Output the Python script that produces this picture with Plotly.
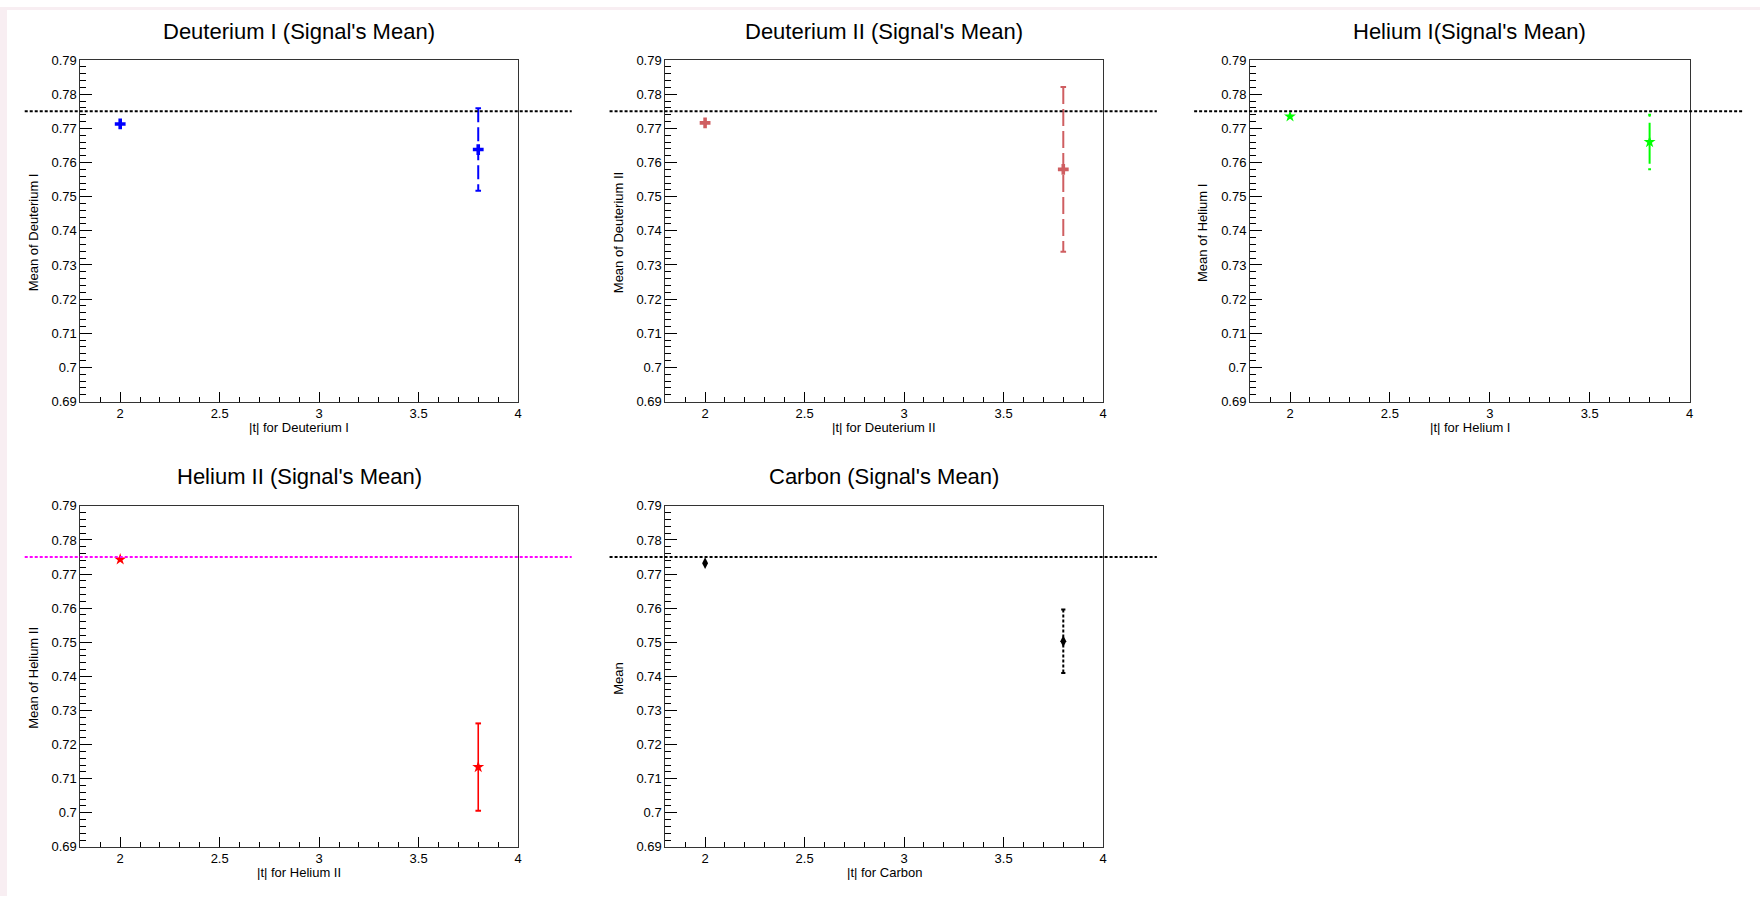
import plotly.graph_objects as go

# ---- canvas ----
W, H = 1764, 904

# ---- data ----
T_VALUES = [2.0, 3.8]
T_RANGE = [1.8, 4.0]
MEAN_RANGE = [0.69, 0.79]

REF_MEAN = 0.775            # reference mean drawn as a dotted line
REF_SPAN_T = [1.52, 4.27]   # |t| extent of the reference line

D1_MEAN = [0.7713, 0.7638]
D1_ERR = [0.0005, 0.0121]

D2_MEAN = [0.7716, 0.7580]
D2_ERR = [0.0006, 0.0241]

HE1_MEAN = [0.7735, 0.7660]
HE1_ERR = [0.0005, 0.0080]

HE2_MEAN = [0.7743, 0.7134]
HE2_ERR = [0.0006, 0.0128]

C_MEAN = [0.7732, 0.7503]
C_ERR = [0.0006, 0.0093]

TITLES = ["Deuterium I (Signal's Mean)", "Deuterium II (Signal's Mean)",
          "Helium I(Signal's Mean)", "Helium II (Signal's Mean)",
          "Carbon (Signal's Mean)"]
X_TITLES = ["|t| for Deuterium I", "|t| for Deuterium II", "|t| for Helium I",
            "|t| for Helium II", "|t| for Carbon"]
Y_TITLES = ["Mean of Deuterium I", "Mean of Deuterium II", "Mean of Helium I",
            "Mean of Helium II", "Mean"]

X_TICKS = [2.0, 2.5, 3.0, 3.5, 4.0]
X_TICK_LABELS = ["2", "2.5", "3", "3.5", "4"]
Y_TICKS = [0.69, 0.70, 0.71, 0.72, 0.73, 0.74, 0.75, 0.76, 0.77, 0.78, 0.79]
Y_TICK_LABELS = ["0.69", "0.7", "0.71", "0.72", "0.73", "0.74", "0.75",
                 "0.76", "0.77", "0.78", "0.79"]

# ---- styles per panel ----
PANELS = [
    dict(mean=D1_MEAN, err=D1_ERR, color="rgb(0,0,255)", symbol="cross", size=9,
         dash="14px,5px", ewidth=2, cap=4, ref_color="black"),
    dict(mean=D2_MEAN, err=D2_ERR, color="rgb(207,94,97)", symbol="cross", size=9,
         dash="17px,5px", ewidth=2, cap=4, ref_color="black"),
    dict(mean=HE1_MEAN, err=HE1_ERR, color="rgb(0,255,0)", symbol="star", size=9,
         dash="2px,6px,41px,6px", ewidth=2, cap=2, ref_color="black"),
    dict(mean=HE2_MEAN, err=HE2_ERR, color="rgb(255,0,0)", symbol="star", size=9,
         dash="solid", ewidth=1.6, cap=4, ref_color="rgb(255,0,255)"),
    dict(mean=C_MEAN, err=C_ERR, color="black", symbol="diamond-tall", size=8.5,
         dash="3px,2px", ewidth=2, cap=3, ref_color="black"),
]
CAP_MIN_ERR = 0.002   # end caps only on bars that reach beyond the marker

# ---- frame geometry in pixels ----
COL_LEFT = [80.6, 666.8, 1252.9]
COL_WIDTH = [438.6, 438.8, 440.5]
ROW_TOP = [54.0, 507.3]
ROW_HEIGHT = [347.2, 346.7]

FONT = "Liberation Sans, Arial, Helvetica, sans-serif"
CANVAS_TINT = "rgb(248,238,242)"

fig = go.Figure()
annotations = []
shapes = [
    # thin tinted strips along the top and left edges of the canvas
    dict(type="rect", xref="paper", yref="paper", x0=0, x1=7 / W, y0=0, y1=1,
         fillcolor=CANVAS_TINT, line=dict(width=0), layer="below"),
    dict(type="rect", xref="paper", yref="paper", x0=0, x1=1, y0=1 - 3 / H, y1=1,
         fillcolor=CANVAS_TINT, line=dict(width=0), layer="below"),
]

for i, p in enumerate(PANELS):
    row, col = divmod(i, 3)
    left, width = COL_LEFT[col], COL_WIDTH[col]
    top, height = ROW_TOP[row], ROW_HEIGHT[row]
    sfx = "" if i == 0 else str(i + 1)
    xa, ya = "x" + sfx, "y" + sfx

    xdom = [left / W, (left + width) / W]
    ydom = [1 - (top + height) / H, 1 - top / H]

    fig.layout["xaxis" + sfx] = dict(
        domain=xdom, anchor=ya, range=T_RANGE, showgrid=False, zeroline=False,
        showline=True, mirror=True, linecolor="#333", linewidth=1,
        tickmode="array", tickvals=X_TICKS, ticktext=X_TICK_LABELS,
        ticks="inside", ticklen=10, tickwidth=1, tickcolor="black",
        minor=dict(ticks="inside", ticklen=5, tickwidth=1, tickcolor="black",
                   dtick=0.1, tick0=1.8, showgrid=False),
        tickfont=dict(family=FONT, size=13, color="black"),
    )
    fig.layout["yaxis" + sfx] = dict(
        domain=ydom, anchor=xa, range=MEAN_RANGE, showgrid=False, zeroline=False,
        showline=True, mirror=True, linecolor="#333", linewidth=1,
        tickmode="array", tickvals=Y_TICKS, ticktext=Y_TICK_LABELS,
        ticks="inside", ticklen=12, tickwidth=1, tickcolor="black",
        minor=dict(ticks="inside", ticklen=6, tickwidth=1, tickcolor="black",
                   dtick=0.002, tick0=0.69, showgrid=False),
        tickfont=dict(family=FONT, size=13, color="black"),
    )

    # error bars drawn as styled vertical segments
    ex, ey, cx, cy = [], [], [], []
    for t, m, e in zip(T_VALUES, p["mean"], p["err"]):
        ex += [t, t, None]
        ey += [m + e, m - e, None]
        if e >= CAP_MIN_ERR:
            cx += [t, t]
            cy += [m + e, m - e]
    fig.add_trace(go.Scatter(
        x=ex, y=ey, xaxis=xa, yaxis=ya, mode="lines", hoverinfo="skip",
        line=dict(color=p["color"], width=p["ewidth"], dash=p["dash"]),
        showlegend=False))
    fig.add_trace(go.Scatter(
        x=cx, y=cy, xaxis=xa, yaxis=ya, mode="markers", hoverinfo="skip",
        marker=dict(symbol="line-ew", size=p["cap"],
                    line=dict(color=p["color"], width=2)),
        showlegend=False))
    fig.add_trace(go.Scatter(
        x=T_VALUES, y=p["mean"], xaxis=xa, yaxis=ya, mode="markers",
        marker=dict(symbol=p["symbol"], size=p["size"], color=p["color"],
                    line=dict(width=0)),
        showlegend=False))

    # dotted reference line, extending past the frame
    span = T_RANGE[1] - T_RANGE[0]
    yfrac = (REF_MEAN - MEAN_RANGE[0]) / (MEAN_RANGE[1] - MEAN_RANGE[0])
    shapes.append(dict(
        type="line", xref=xa + " domain", yref=ya + " domain",
        x0=(REF_SPAN_T[0] - T_RANGE[0]) / span, x1=(REF_SPAN_T[1] - T_RANGE[0]) / span,
        y0=yfrac, y1=yfrac, layer="above",
        line=dict(color=p["ref_color"], width=2, dash="3px,2px")))

    # panel title and axis titles
    cx_px = left + width / 2
    annotations.append(dict(
        text=TITLES[i], xref="paper", yref="paper", x=cx_px / W, y=1 - (top - 29.5) / H,
        xanchor="center", yanchor="middle", showarrow=False,
        font=dict(family=FONT, size=22, color="black")))
    annotations.append(dict(
        text=X_TITLES[i], xref="paper", yref="paper", x=cx_px / W,
        y=1 - (top + height + 26) / H, xanchor="center", yanchor="middle",
        showarrow=False, font=dict(family=FONT, size=13, color="black")))
    annotations.append(dict(
        text=Y_TITLES[i], xref="paper", yref="paper", x=(left - 47) / W,
        y=1 - (top + height / 2 + 2) / H, xanchor="center", yanchor="middle",
        textangle=-90, showarrow=False, font=dict(family=FONT, size=13, color="black")))

fig.update_layout(
    width=W, height=H, margin=dict(l=0, r=0, t=0, b=0),
    paper_bgcolor="white", plot_bgcolor="white",
    annotations=annotations, shapes=shapes, showlegend=False,
    font=dict(family=FONT, color="black"),
)

fig.write_html("out.html")
